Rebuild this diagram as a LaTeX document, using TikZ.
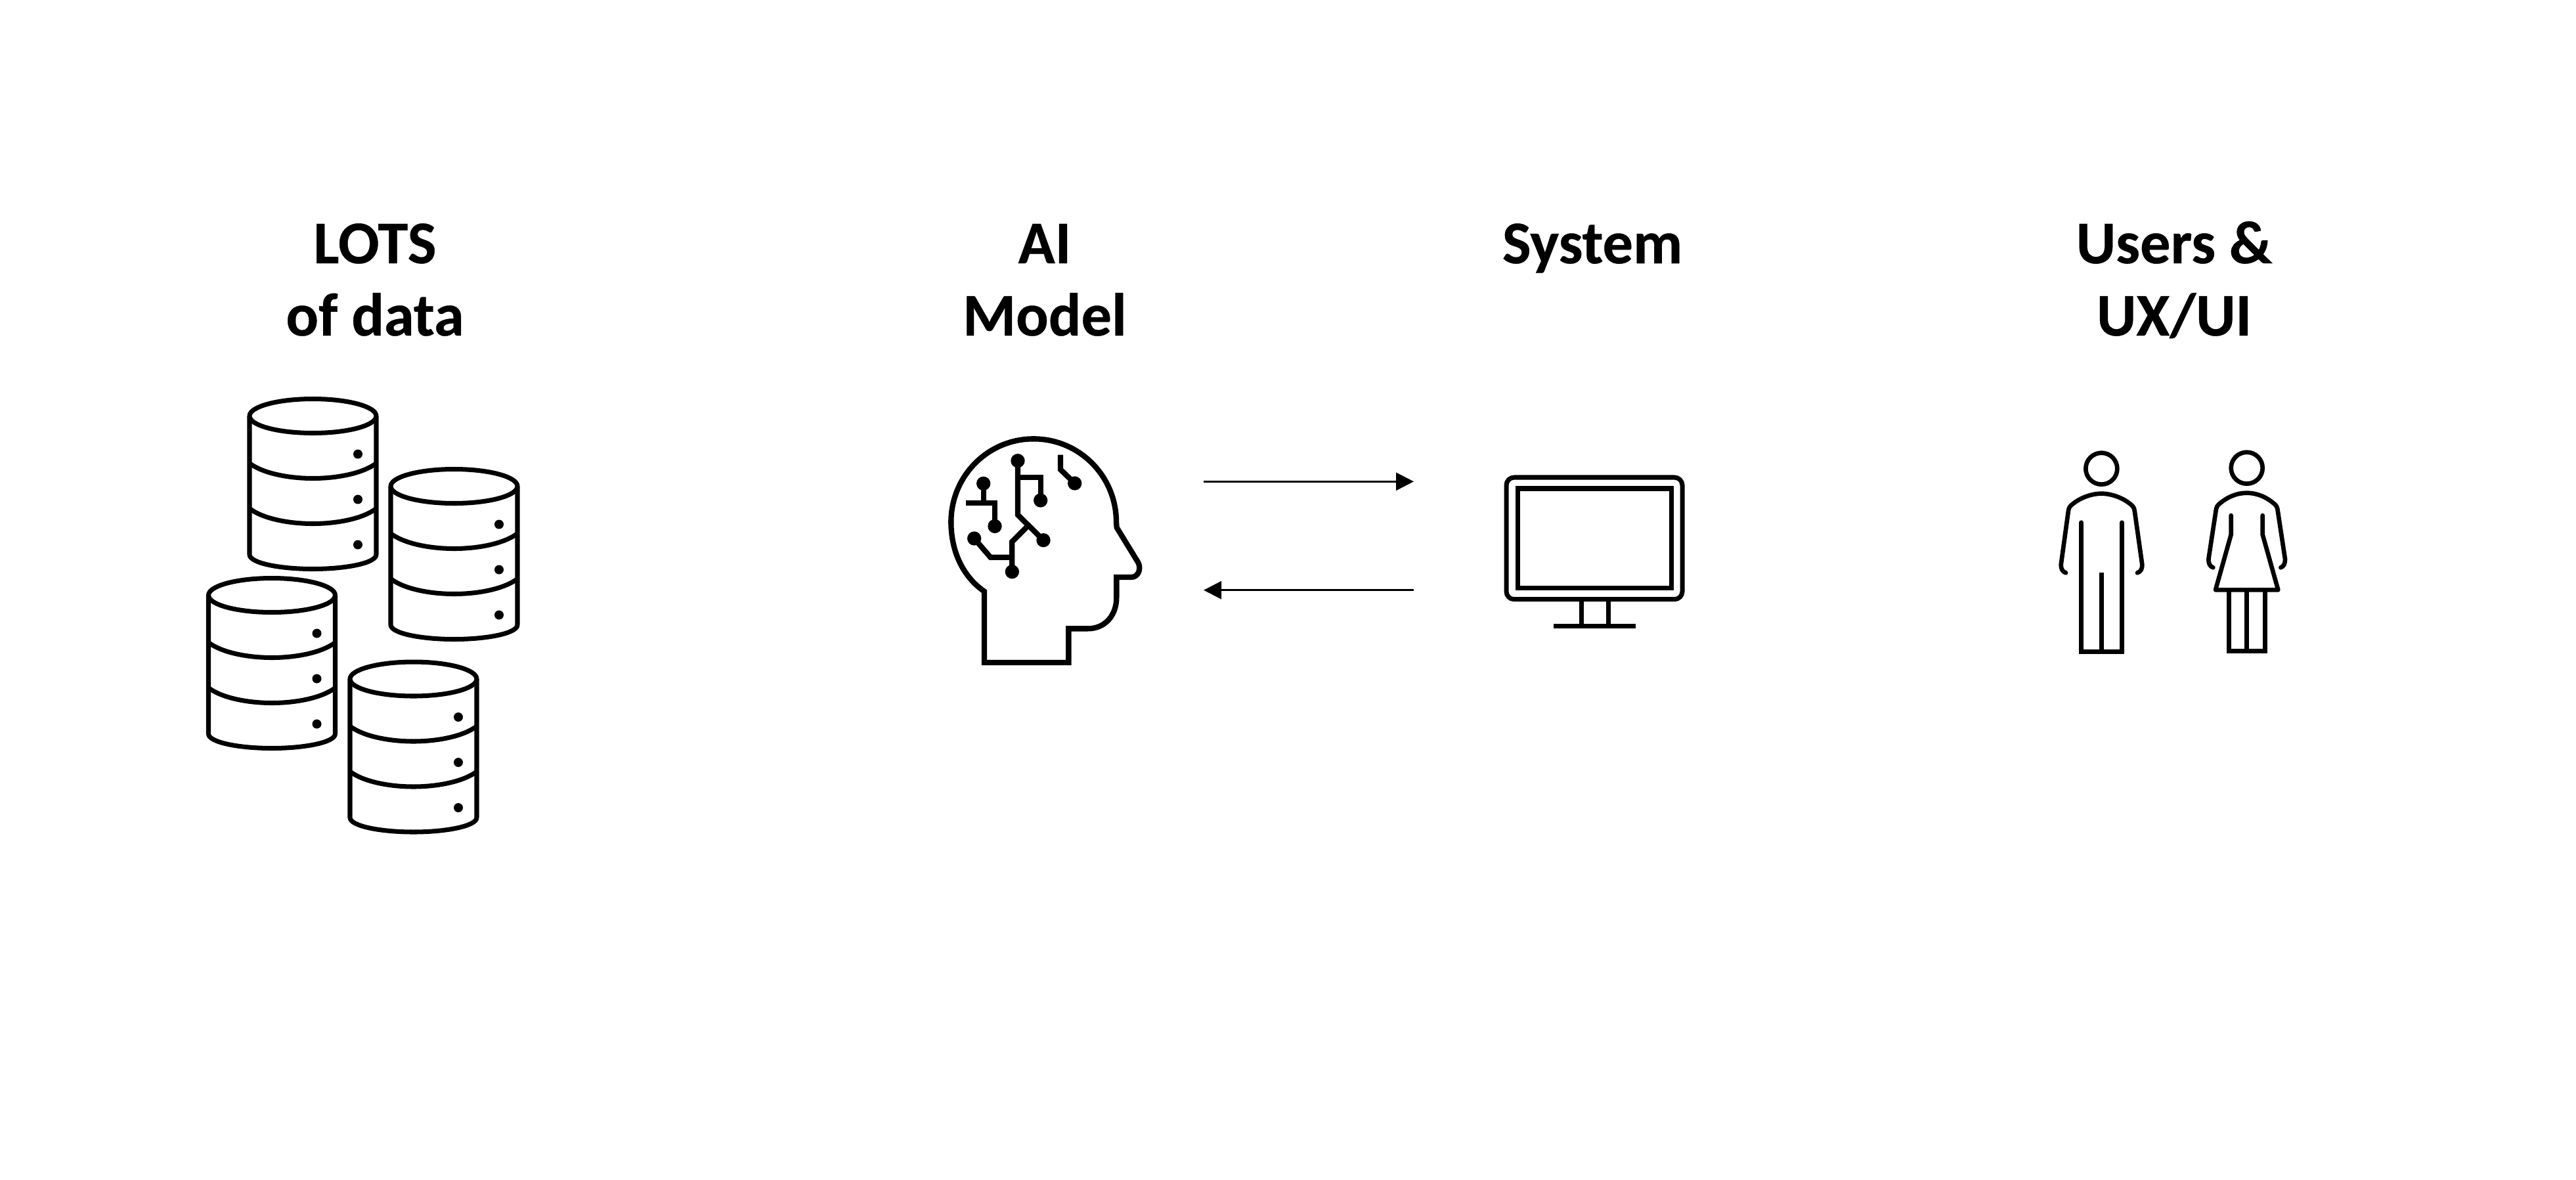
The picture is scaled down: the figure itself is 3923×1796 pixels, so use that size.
\documentclass[tikz,border=0pt]{standalone}
\usepackage{fontspec}
\setmainfont[BoldFeatures={FakeBold=0.4}]{Carlito}
\usetikzlibrary{arrows.meta}
\tikzset{
  label text/.style={inner sep=0pt,outer sep=0pt,align=center,anchor=base,font=\fontsize{26.3}{31.3}\selectfont\bfseries},
  dbline/.style={line width=2pt,line join=round},
  headline/.style={line width=2.36pt,miter limit=10},
  trace/.style={line width=2.36pt},
  person/.style={line width=1.9pt,line cap=round,line join=round},
  personsq/.style={line width=1.9pt},
  screen/.style={line width=2pt},
  flow/.style={line width=0.85pt,-{Triangle[length=0.27cm,width=0.27cm]}},
  pics/dbcyl/.style={code={
    \draw[dbline] (0,0) ellipse [x radius=96.5,y radius=26];
    \draw[dbline] (-96.5,0) -- (-96.5,211) .. controls (-96.5,224) and (-50,233) .. (0,233)
        .. controls (50,233) and (96.5,224) .. (96.5,211) -- (96.5,0);
    \draw[dbline] (-96.5,72) .. controls (-75,88) and (-35,95) .. (0,95) .. controls (35,95) and (75,88) .. (96.5,72);
    \draw[dbline] (-96.5,141) .. controls (-75,157) and (-35,164) .. (0,164) .. controls (35,164) and (75,157) .. (96.5,141);
    \fill (68.5,58) circle [radius=7];
    \fill (68.5,127) circle [radius=7];
    \fill (68.5,196) circle [radius=7];
  }}
}
\begin{document}
\begin{tikzpicture}[x=0.01cm,y=-0.01cm]
\useasboundingbox (0,0) rectangle (3923,1796);
% titles
\node[label text] (tdata) at (571,511) {LOTS\\of data};
\node[label text] (tai) at (1591,511) {AI\\Model};
\node[label text] (tsys) at (2425,401) {System};
\node[label text] (tusers) at (3311,511) {Users \&\\UX/UI};
% databases
\pic at (476.5,633.5) {dbcyl};
\pic at (691.5,740.5) {dbcyl};
\pic at (414,906.5) {dbcyl};
\pic at (629.5,1034) {dbcyl};
% head
\begin{scope}[shift={(1400,640)},x=0.01cm/3,y=-0.01cm/3]
\draw[headline] (297,1107) -- (297,782) .. controls (200,715) and (145,600) .. (145,465)
  .. controls (145,255) and (313,85) .. (522,85) .. controls (731,85) and (900,255) .. (900,465)
  -- (902,490) -- (1000,650) .. controls (1015,680) and (1000,717) .. (968,717)
  -- (901,717) -- (901,810) .. controls (901,890) and (850,952) .. (770,952)
  -- (682,952) -- (682,1107) -- cycle;
\draw[trace] (450,185) -- (450,432) -- (567,548);
\draw[trace] (450,262) -- (554,262) -- (554,366);
\draw[trace] (293,289) -- (293,378);
\draw[trace] (212,378) -- (345,378) -- (345,484);
\draw[trace] (251,540) -- (325,626) -- (424,626);
\draw[trace] (424,692) -- (424,555) -- (490,489);
\draw[trace] (645,158) -- (645,225) -- (710,288);
\foreach \p in {(450,185),(554,366),(293,289),(345,484),(251,540),(567,548),(424,692),(710,288)}
  \fill \p circle [radius=32];
\end{scope}
% arrows
\coordinate (a1s) at (1833,733.3);
\coordinate (a1e) at (2153,733.3);
\coordinate (a2s) at (2153,898.7);
\coordinate (a2e) at (1833,898.7);
\draw[flow] (a1s) -- (a1e);
\draw[flow] (a2s) -- (a2e);
% monitor
\draw[screen,rounded corners=0.12cm] (2294,727) rectangle (2562,912.7);
\draw[screen] (2311.5,744) rectangle (2545.5,895.5);
\draw[screen] (2408,912.7) -- (2408,953.7);
\draw[screen] (2449,912.7) -- (2449,953.7);
\draw[screen] (2366,953.7) -- (2491,953.7);
% people
\begin{scope}[shift={(3100,660)},x=0.01cm/3,y=-0.01cm/3]
\draw[personsq] (301,161) circle [radius=72];
\draw[person] (138,637) .. controls (122,632) and (116,618) .. (116,600) -- (150,352)
  .. controls (153,338) and (157,333) .. (163,328) .. controls (200,295) and (255,275) .. (301,275)
  .. controls (347,275) and (402,295) .. (439,328) .. controls (445,333) and (449,338) .. (452,352)
  -- (487,600) .. controls (487,618) and (481,632) .. (465,637);
\draw[person] (209,407) -- (209,800);
\draw[person] (394,407) -- (394,800);
\draw[personsq] (209,800) -- (209,997) -- (394,997) -- (394,800);
\draw[personsq] (301,636) -- (301,997);
\draw[personsq] (965,158) circle [radius=72];
\draw[person] (811,613) .. controls (796,608) and (790,594) .. (790,575) -- (825,345)
  .. controls (828,335) and (830,330) .. (836,325) .. controls (875,290) and (920,272) .. (965,272)
  .. controls (1010,272) and (1055,290) .. (1094,325) .. controls (1100,330) and (1102,335) .. (1105,345)
  -- (1140,575) .. controls (1140,594) and (1134,608) .. (1120,613);
\draw[person] (893,375) -- (893,462) -- (822,715) -- (1108,715) -- (1037,462) -- (1037,375);
\draw[personsq] (883,720) -- (883,994) -- (1048,994) -- (1048,720);
\draw[personsq] (965,720) -- (965,994);
\end{scope}
\end{tikzpicture}
\end{document}
